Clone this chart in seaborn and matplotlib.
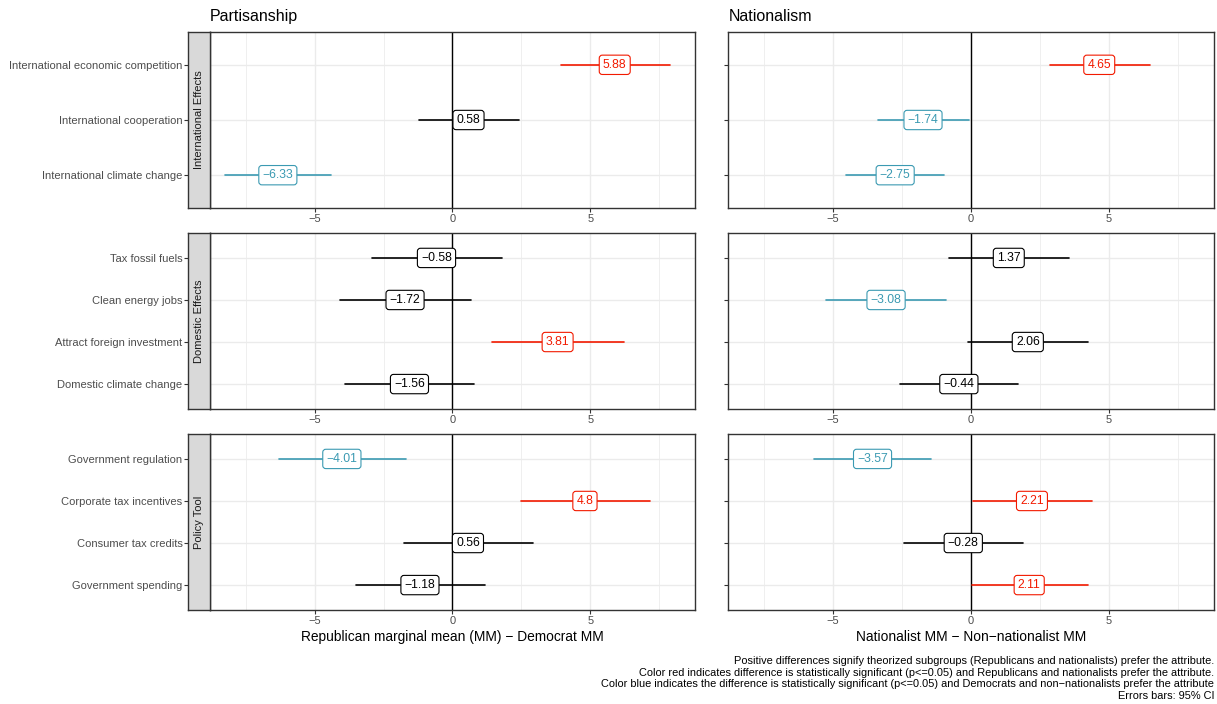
import numpy as np
import pandas as pd
import matplotlib
matplotlib.use("Agg")
import matplotlib.pyplot as plt
import seaborn as sns

# ---------------- data ----------------
groups = ["International Effects", "Domestic Effects", "Policy Tool"]
attrs_international = ["International economic competition", "International cooperation",
                       "International climate change"]
attrs_domestic = ["Tax fossil fuels", "Clean energy jobs", "Attract foreign investment",
                  "Domestic climate change"]
attrs_policy = ["Government regulation", "Corporate tax incentives", "Consumer tax credits",
                "Government spending"]

# Partisanship: Republican MM - Democrat MM
part_est = [5.88, 0.58, -6.33, -0.58, -1.72, 3.81, -1.56, -4.01, 4.8, 0.56, -1.18]
part_lo = [3.94, -1.21, -8.23, -2.91, -4.06, 1.44, -3.88, -6.30, 2.50, -1.74, -3.49]
part_hi = [7.88, 2.41, -4.41, 1.79, 0.66, 6.23, 0.79, -1.68, 7.16, 2.90, 1.18]
part_sig = ["red", "ns", "blue", "ns", "ns", "red", "ns", "blue", "red", "ns", "ns"]

# Nationalism: Nationalist MM - Non-nationalist MM
nat_est = [4.65, -1.74, -2.75, 1.37, -3.08, 2.06, -0.44, -3.57, 2.21, -0.28, 2.11]
nat_lo = [2.88, -3.39, -4.53, -0.79, -5.24, -0.11, -2.58, -5.70, 0.06, -2.42, 0.02]
nat_hi = [6.48, -0.08, -0.97, 3.55, -0.91, 4.26, 1.72, -1.45, 4.39, 1.88, 4.25]
nat_sig = ["red", "blue", "blue", "ns", "blue", "ns", "ns", "blue", "red", "ns", "red"]

col_titles = ["Partisanship", "Nationalism"]
x_titles = ["Republican marginal mean (MM) \u2212 Democrat MM",
            "Nationalist MM \u2212 Non\u2212nationalist MM"]
x_ticks = [-5, 0, 5]
x_ticklabels = ["\u22125", "0", "5"]
caption_lines = [
    "Positive differences signify theorized subgroups (Republicans and nationalists) prefer the attribute.",
    "Color red indicates difference is statistically significant (p<=0.05) and Republicans and nationalists prefer the attribute.",
    "Color blue indicates the difference is statistically significant (p<=0.05) and Democrats and non\u2212nationalists prefer the attribute",
    "Errors bars: 95% CI",
]

# ---------------- tidy frame ----------------
attr_all = attrs_international + attrs_domestic + attrs_policy
grp_all = ([groups[0]] * len(attrs_international) + [groups[1]] * len(attrs_domestic)
           + [groups[2]] * len(attrs_policy))
frames = []
for name, est, lo, hi, sig in [("Partisanship", part_est, part_lo, part_hi, part_sig),
                               ("Nationalism", nat_est, nat_lo, nat_hi, nat_sig)]:
    frames.append(pd.DataFrame({"panel": name, "group": grp_all, "attr": attr_all,
                                "est": est, "lo": lo, "hi": hi, "sig": sig}))
df = pd.concat(frames, ignore_index=True)

# ---------------- style ----------------
sns.set_theme(style="white")
plt.rcParams["font.family"] = ["Liberation Sans", "DejaVu Sans"]
plt.rcParams["axes.unicode_minus"] = True

RED = "#F21A00"
BLUE = "#3B9AB2"
palette = {"red": RED, "blue": BLUE, "ns": "black"}
GRID = "#EBEBEB"
BORDER = "#333333"

W, H = 1217, 704
fig = plt.figure(figsize=(W / 100, H / 100), dpi=100)


def rect(x0, x1, y0, y1):
    return [x0 / W, 1 - y1 / H, (x1 - x0) / W, (y1 - y0) / H]


cols_x = [(209.7, 695.3), (728.3, 1213.7)]
rows_y = [(31.7, 208.3), (232.7, 409.3), (433.7, 610.3)]
strip_x = (188.3, 209.7)
XLIM = (-8.8, 8.8)

for ci, panel in enumerate(col_titles):
    for ri, grp in enumerate(groups):
        sub = df[(df.panel == panel) & (df.group == grp)].reset_index(drop=True)
        n = len(sub)
        sub["ypos"] = np.arange(n)
        ax = fig.add_axes(rect(*cols_x[ci], *rows_y[ri]))
        ax.set_axisbelow(True)

        # grid
        for gx in [-7.5, -2.5, 2.5, 7.5]:
            ax.axvline(gx, color=GRID, lw=0.55, zorder=0)
        for gx in x_ticks:
            ax.axvline(gx, color=GRID, lw=1.0, zorder=0)
        for gy in range(n):
            ax.axhline(gy, color=GRID, lw=1.0, zorder=0)

        ax.axvline(0, color="black", lw=1.0, zorder=1)

        long = pd.concat([
            pd.DataFrame({"attr": sub.attr, "value": sub.lo, "ypos": sub.ypos, "sig": sub.sig}),
            pd.DataFrame({"attr": sub.attr, "value": sub.hi, "ypos": sub.ypos, "sig": sub.sig}),
        ], ignore_index=True)
        sns.lineplot(data=long, x="value", y="ypos", units="attr", estimator=None,
                     hue="sig", palette=palette, sort=False, legend=False,
                     lw=1.2, ax=ax, zorder=2)

        for _, row in sub.iterrows():
            c = palette[row.sig]
            txt = f"{row.est:g}".replace("-", "\u2212")
            ax.text(row.est, row.ypos, txt, color=c, fontsize=8.8, ha="center",
                    va="center", zorder=5,
                    bbox=dict(boxstyle="round,pad=0.3,rounding_size=0.25",
                              fc="white", ec=c, lw=0.8))

        ax.set_xlim(*XLIM)
        ax.set_ylim(n - 1 + 0.6, -0.6)
        ax.set_xlabel("")
        ax.set_ylabel("")
        ax.set_xticks(x_ticks)
        ax.set_xticklabels(x_ticklabels)
        ax.tick_params(axis="x", length=2.6, width=0.8, color=BORDER, pad=1.5,
                       labelsize=8, labelcolor="#4D4D4D", bottom=True)
        ax.set_yticks(range(n))
        ax.set_yticklabels([])
        for s in ax.spines.values():
            s.set_color(BORDER)
            s.set_linewidth(1.0)

        if ci == 0:
            ax.tick_params(axis="y", left=False, length=0)
            sax = fig.add_axes(rect(*strip_x, *rows_y[ri]))
            sax.set_facecolor("#D9D9D9")
            sax.set_xticks([])
            sax.set_ylim(n - 1 + 0.6, -0.6)
            sax.set_yticks(range(n))
            sax.set_yticklabels(list(sub.attr))
            sax.tick_params(axis="y", length=2.6, width=0.8, color=BORDER, pad=1.5,
                            labelsize=8, labelcolor="#4D4D4D", left=True)
            for s in sax.spines.values():
                s.set_color(BORDER)
                s.set_linewidth(1.0)
            sax.text(0.5, 0.5, grp, rotation=90, ha="center", va="center",
                     transform=sax.transAxes, fontsize=8, color="#1A1A1A")
        else:
            ax.tick_params(axis="y", length=2.6, width=0.8, color=BORDER, left=True)

        if ri == 0:
            ax.text(0, 1 + (31.7 - 20.7) / (rows_y[0][1] - rows_y[0][0]), panel,
                    transform=ax.transAxes, ha="left", va="baseline",
                    fontsize=11.5, color="black")
        if ri == len(groups) - 1:
            ax.set_xlabel(x_titles[ci], fontsize=9.9, color="black", labelpad=3)

ys = [661, 672.7, 684.4, 696.1]
for line, y in zip(caption_lines, ys):
    fig.text(1214 / W, 1 - y / H, line, ha="right", va="center", fontsize=7.95,
             color="black")

fig.savefig("out.png", dpi=100)
